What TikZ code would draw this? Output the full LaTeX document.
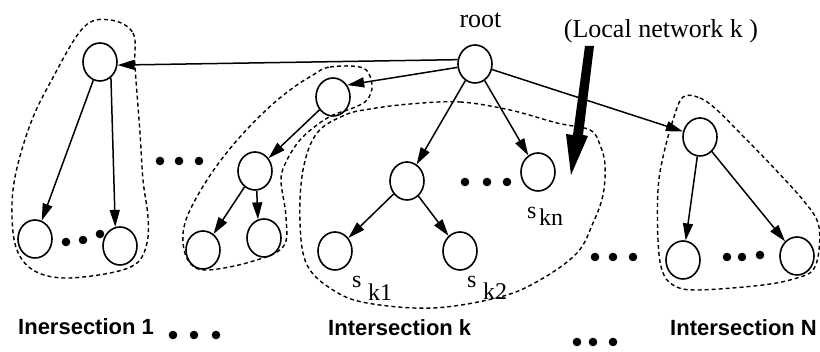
\documentclass[tikz,border=0pt]{standalone}
\usepackage{fontspec}
\setmainfont{Liberation Serif}
\newfontfamily\labsans{Liberation Sans}
\usetikzlibrary{arrows.meta,shapes.geometric}
\begin{document}
\begin{tikzpicture}[x=1pt,y=-1pt,
  vert/.style={ellipse,draw,line width=1.6pt,minimum width=34pt,minimum height=38pt,inner sep=0pt},
  edge/.style={line width=1.5pt,-{Triangle[length=17pt,width=10pt]}},
  blob/.style={dash pattern=on 4pt off 3pt,line width=1.4pt},
  serif/.style={font=\fontsize{26}{30}\selectfont,inner sep=0pt,anchor=base},
  sub/.style={font=\fontsize{24}{26}\selectfont,inner sep=0pt,anchor=base west},
  title/.style={font=\labsans\bfseries\fontsize{22}{26}\selectfont,inner sep=0pt,anchor=base west}]
\useasboundingbox (0,0) rectangle (820,352);

% vertices
\node[vert] (root) at (475,64) {};
\node[vert] (a1) at (100,62) {};
\node[vert] (a1l) at (35,239) {};
\node[vert] (a1r) at (120,246) {};
\node[vert] (b1) at (333,97) {};
\node[vert] (b2) at (255,171) {};
\node[vert] (b2l) at (203,250) {};
\node[vert] (b2r) at (264,238) {};
\node[vert] (km) at (407,181) {};
\node[vert] (sk1) at (335,251) {};
\node[vert] (sk2) at (460,251) {};
\node[vert] (skn) at (538,172) {};
\node[vert] (nt) at (700,137) {};
\node[vert] (nl) at (683,260) {};
\node[vert] (nr) at (797,256) {};

% edges
\draw[edge] (root.166) -- (a1.350);
\draw[edge] (root.191) -- (b1.40);
\draw[edge] (root) -- (km);
\draw[edge] (root) -- (skn);
\draw[edge] (root) -- (nt);
\draw[edge] (a1) -- (a1l);
\draw[edge] (a1.-55) -- (a1r.104);
\draw[edge] (b1) -- (b2);
\draw[edge] (b2) -- (b2l);
\draw[edge] (b2.-85) -- (b2r.108);
\draw[edge] (km) -- (sk1);
\draw[edge] (km) -- (sk2);
\draw[edge] (nt) -- (nl);
\draw[edge] (nt) -- (nr);

% dashed regions
\draw[blob] plot[smooth cycle,tension=0.6] coordinates {(110,20) (133,33) (135,67) (140,133) (143,180) (148,217) (147,243) (137,263) (110,273) (63,278) (33,270) (17,250) (12,217) (15,177) (30,125) (50,83) (83,28)};
\draw[blob] plot[smooth cycle,tension=0.6] coordinates {(313,75) (330,67) (363,68) (372,85) (367,100) (353,108) (333,115) (317,125) (300,140) (287,160) (281,180) (286,217) (283,247) (250,262) (207,270) (190,263) (183,243) (187,217) (207,180) (233,145) (263,113) (290,90)};
\draw[blob] plot[smooth cycle,tension=0.6] coordinates {(410,104) (460,102) (510,110) (557,123) (590,130) (600,145) (605,165) (603,195) (593,223) (577,253) (540,280) (500,297) (433,308) (367,303) (333,290) (307,265) (300,223) (303,170) (317,133) (345,115) (370,109)};
\draw[blob] plot[smooth cycle,tension=0.6] coordinates {(683,97) (700,98) (717,110) (740,133) (773,167) (803,200) (818,223) (819,250) (813,270) (797,278) (763,285) (697,290) (673,285) (662,270) (658,240) (658,190) (663,157) (673,120)};

% dots
\foreach \x/\y in {160/161,179/161,199/161, 66/242,83/240,100/234, 465/182,487/182,507/182,
  595/257,613/257,633/257, 727/257,742/257,760/255, 173/335,194/335,216/335, 577/342,593/342,613/342}
  \fill (\x,\y) circle (4.3pt);

% big arrow
\fill (585,46) -- (594,46) -- (583,135) -- (588,136) -- (571,175) -- (566,134) -- (573,135) -- cycle;

% labels
\node[serif] (lroot) at (480.5,28) {root};
\node[serif] (lnet) at (661,38) {(Local network k )};
\node[sub] (s1a) at (352,288) {s};
\node[sub] (s1b) at (368,301) {k1};
\node[sub] (s2a) at (467,288) {s};
\node[sub] (s2b) at (483,300) {k2};
\node[sub] (sna) at (527,219) {s};
\node[sub] (snb) at (539,226) {kn};
\node[title] (t1) at (18,335) {Inersection 1};
\node[title] (tk) at (328,336) {Intersection k};
\node[title] (tn) at (670,336) {Intersection N};
\end{tikzpicture}
\end{document}
